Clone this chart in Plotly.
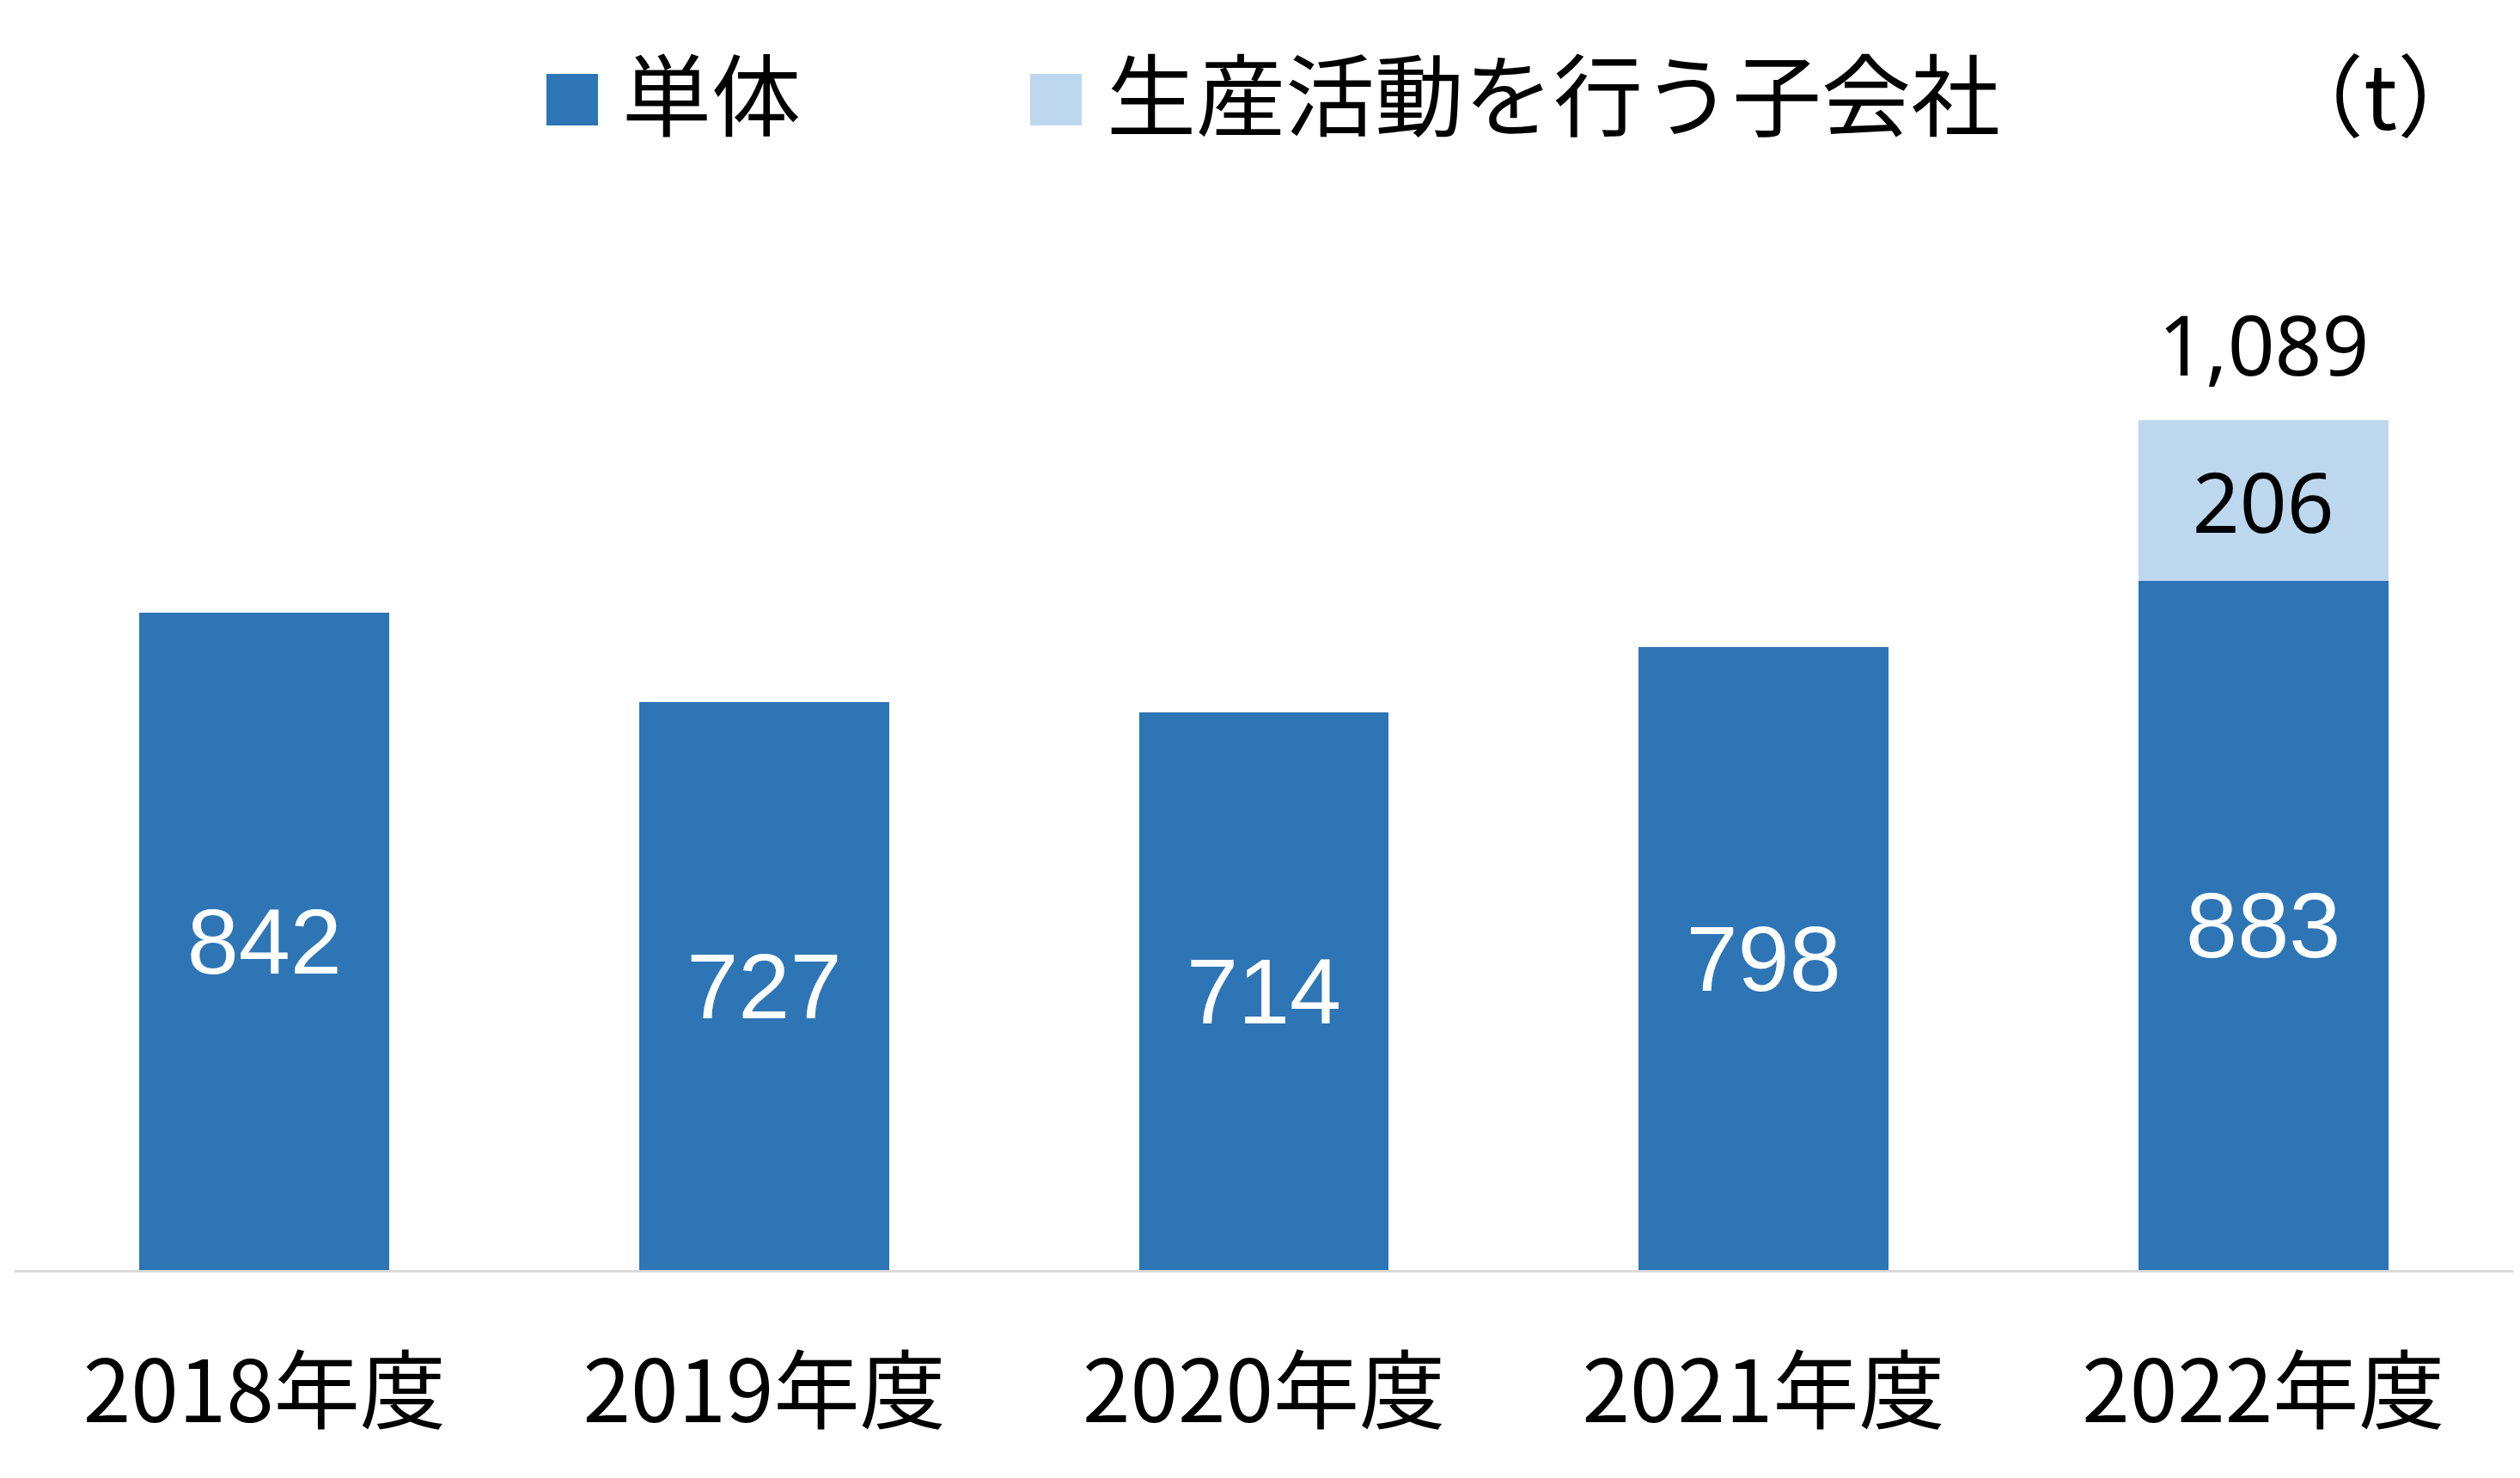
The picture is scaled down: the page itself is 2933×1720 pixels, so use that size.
import plotly.graph_objects as go

categories = ["2018年度", "2019年度", "2020年度", "2021年度", "2022年度"]
tanntai = [842, 727, 714, 798, 883]
subsidiaries = [None, None, None, None, 206]
legend_names = ["単体", "生産活動を行う子会社"]
unit_label = "（t）"

dark = "#2E75B6"
light = "#BDD7EE"

totals = [a + (b or 0) for a, b in zip(tanntai, subsidiaries)]

fig = go.Figure()
fig.add_trace(go.Bar(
    x=categories, y=tanntai, name=legend_names[0],
    marker=dict(color=dark, line=dict(width=0)),
    text=[str(v) for v in tanntai], textposition="inside", insidetextanchor="middle",
    textfont=dict(family="Liberation Sans, Arial", size=108, color="white"),
    showlegend=False,
))
fig.add_trace(go.Bar(
    x=categories, y=subsidiaries, name=legend_names[1],
    marker=dict(color=light, line=dict(width=0)),
    text=[("" if v is None else str(v)) for v in subsidiaries], textposition="inside",
    insidetextanchor="middle",
    textfont=dict(family="Noto Sans", size=96, color="black"),
    showlegend=False,
))

# total label above last stacked bar
fig.add_annotation(
    x=categories[-1], y=totals[-1], xref="x", yref="y",
    text=f"{totals[-1]:,}", showarrow=False, yanchor="bottom", yshift=22,
    font=dict(family="Noto Sans", size=96, color="black"),
)

# plot area in page pixels (page has 8px body margin)
PX0, PX1 = 17, 2925
PY0, PY1 = 206, 1478
def px(x):
    return (x - PX0) / (PX1 - PX0)
def py(y):
    return (PY1 - y) / (PY1 - PY0)

# manual legend (large square symbols)
leg_font = dict(family="Noto Sans CJK JP", size=104, color="black")
fig.add_shape(type="rect", xref="paper", yref="paper",
              x0=px(636), x1=px(696), y0=py(146), y1=py(86),
              fillcolor=dark, line=dict(width=0))
fig.add_shape(type="rect", xref="paper", yref="paper",
              x0=px(1199), x1=px(1259), y0=py(146), y1=py(86),
              fillcolor=light, line=dict(width=0))
fig.add_annotation(xref="paper", yref="paper", x=px(722), y=py(106),
                   xanchor="left", yanchor="middle", text=legend_names[0],
                   showarrow=False, font=leg_font)
fig.add_annotation(xref="paper", yref="paper", x=px(1286), y=py(106),
                   xanchor="left", yanchor="middle", text=legend_names[1],
                   showarrow=False, font=leg_font)
fig.add_annotation(xref="paper", yref="paper", x=px(2896), y=py(106),
                   xanchor="right", yanchor="middle", text=unit_label,
                   showarrow=False, font=leg_font)

fig.update_layout(
    width=2933, height=1720,
    barmode="stack", bargap=0.5,
    plot_bgcolor="white", paper_bgcolor="white",
    margin=dict(l=PX0 - 8, r=2933 - (PX1 - 8), t=PY0 - 8, b=1720 - (PY1 - 8), autoexpand=False),
    xaxis=dict(
        showline=True, linecolor="#D9D9D9", linewidth=3,
        showgrid=False, ticks="",
        tickfont=dict(family="Noto Sans CJK JP", size=100, color="black"),
        ticklabelstandoff=54,
    ),
    yaxis=dict(visible=False, range=[0, 1400], showgrid=False, zeroline=False),
)

fig.write_html("out.html")
